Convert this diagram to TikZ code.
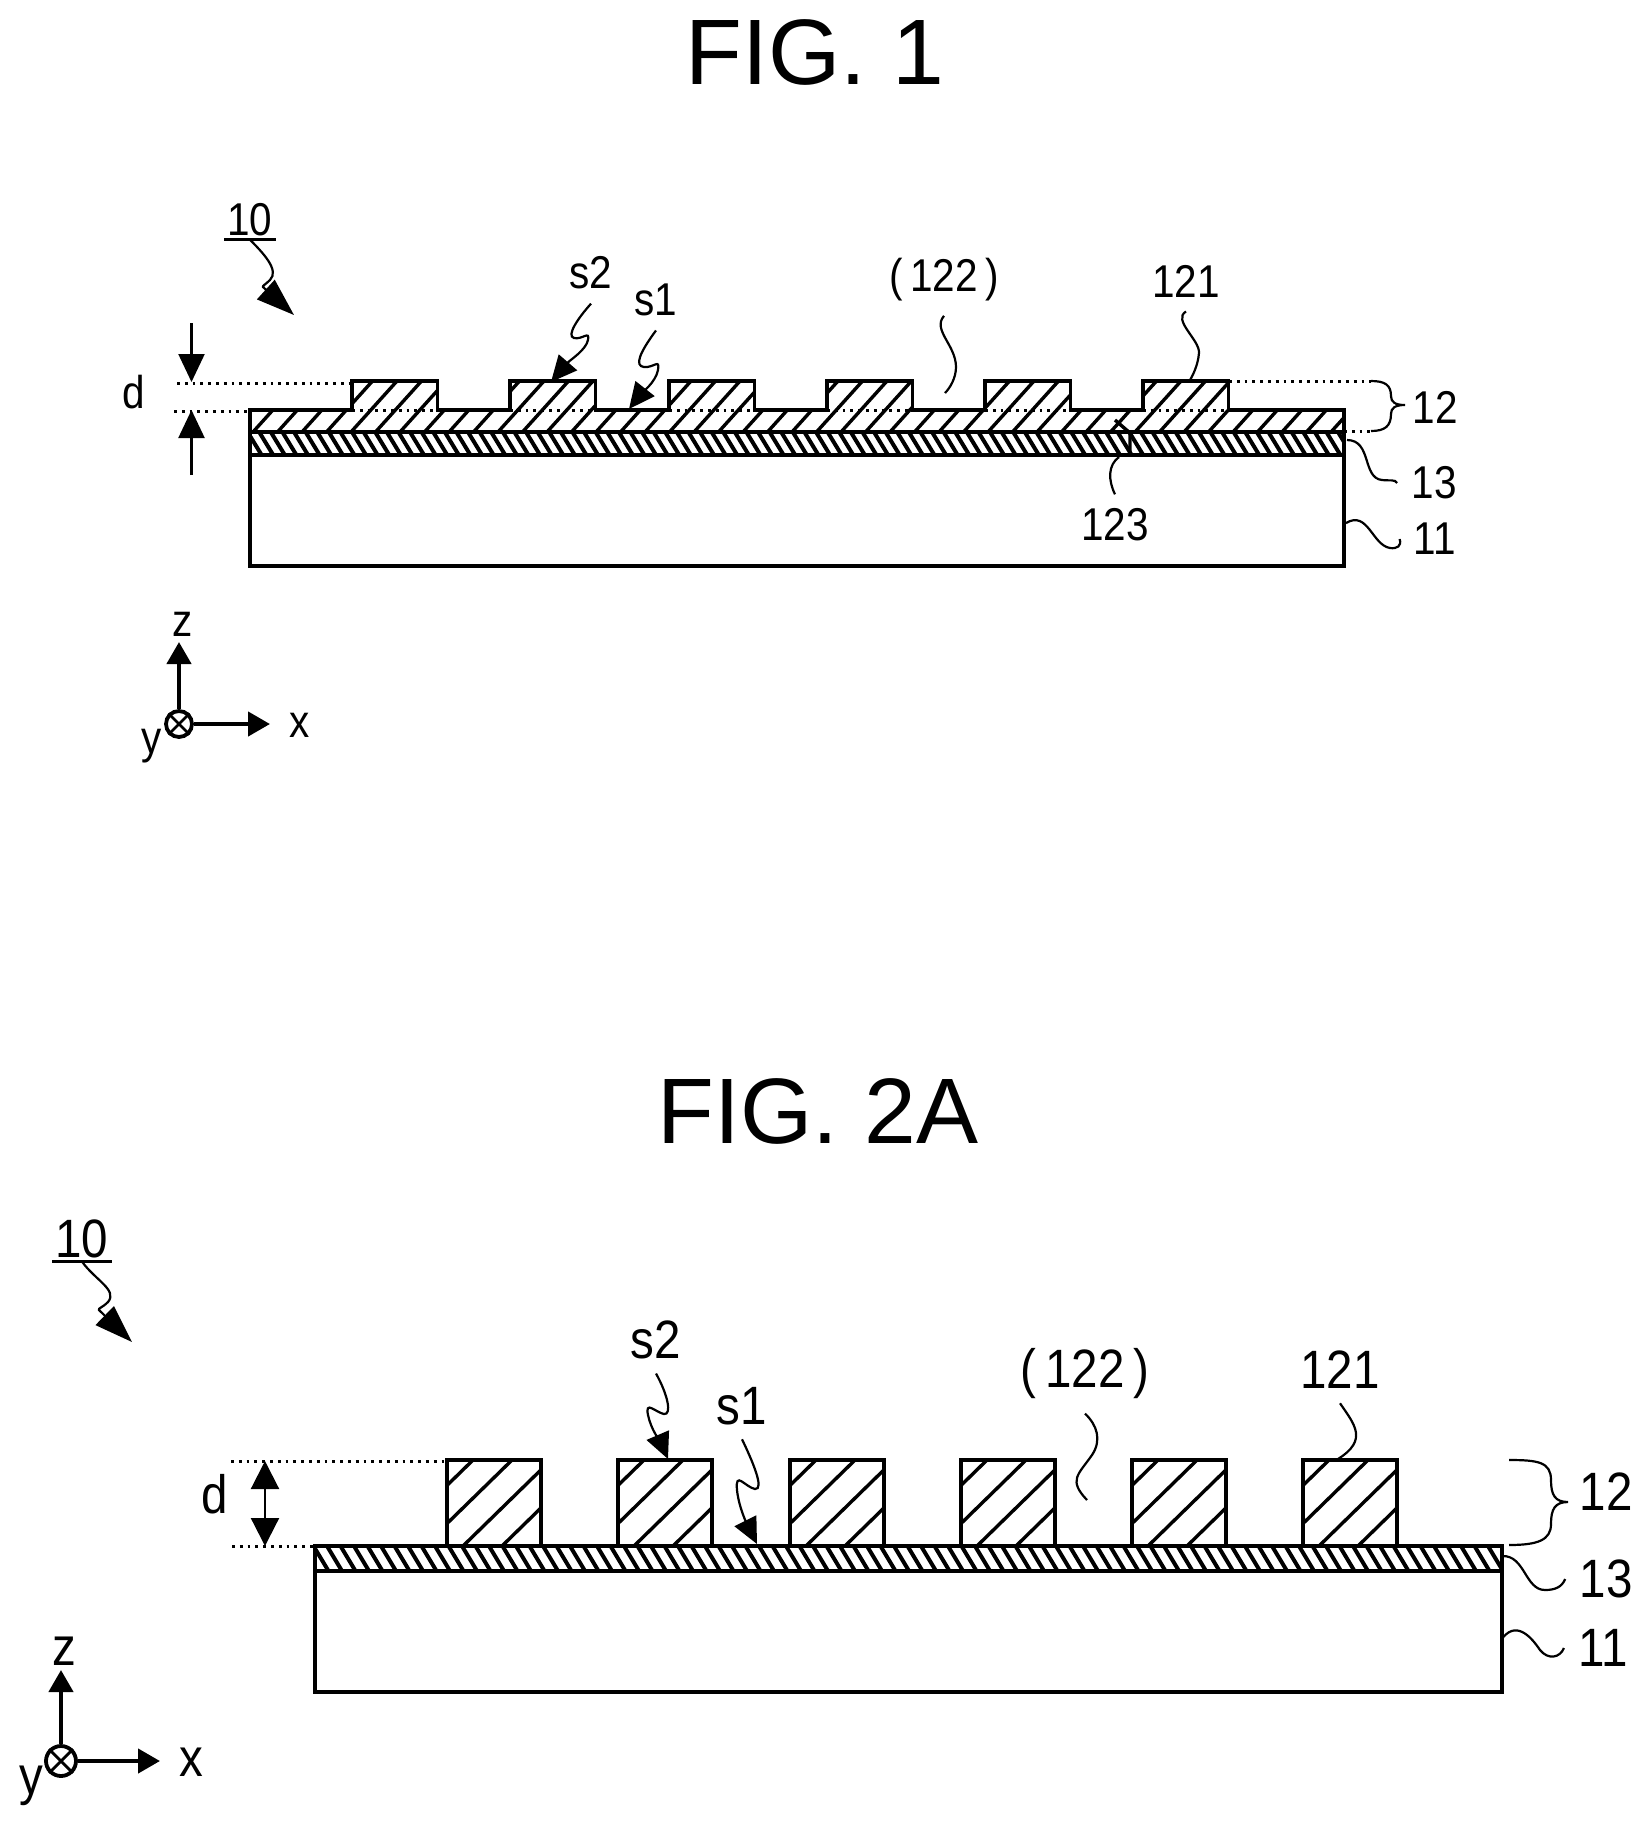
\documentclass[tikz,border=0pt]{standalone}
\usepackage{fontspec}
\setmainfont{Liberation Sans}
\newfontfamily\tagfont[FakeStretch=0.88]{Liberation Sans}
\usetikzlibrary{arrows.meta}

\newcommand{\bumpsA}{352,510,669,827,985,1143}
\newcommand{\bumpsB}{447,618,790,961,1132,1303}

\begin{document}
\begin{tikzpicture}
  [x=0.5pt,y=-0.5pt,
    title/.style={font=\fontsize{46.5}{50}\selectfont},
    tagA/.style={inner sep=7pt,font=\tagfont\fontsize{23}{26}\selectfont},
    tagB/.style={inner sep=7pt,font=\tagfont\fontsize{27}{30}\selectfont},
    tenA/.style={inner sep=1.5pt,font=\tagfont\fontsize{23}{26}\selectfont},
    tenB/.style={inner sep=1.5pt,font=\tagfont\fontsize{27}{30}\selectfont},
    outline/.style={line width=1.7pt,line join=miter},
    hatchwide/.style={line width=1.7pt},
    hatchdense/.style={line width=2pt},
    dots/.style={line width=1.5pt,dash pattern=on 1.4pt off 2.5pt},
    leader/.style={line width=1.1pt},
    pointer/.style={line width=1.1pt,-{Triangle[length=13pt,width=12pt]}},
    bigpointer/.style={line width=1.1pt,-{Triangle[length=19pt,width=13pt]}},
    gauge/.style={line width=1.1pt,-{Triangle[length=14pt,width=13pt]}},
    axis/.style={line width=2.2pt,-{Triangle[length=11pt,width=12pt]}},
    origin/.style={draw,circle,line width=1.9pt,inner sep=0pt}]

  \useasboundingbox (0,0) rectangle (1651,1828);

  % FIG. 1
  \node[title] (titleA) at (815,52) {FIG. 1};

  \begin{scope}
    \clip (250,410) rectangle (1344,432)
      foreach \b in \bumpsA {(\b,381) rectangle (\b+85.5,410)};
    \foreach \i in {0,...,47}
      \draw[hatchwide] (204+\i*24.5,432) -- ++(46,-51);
  \end{scope}
  \begin{scope}
    \clip (250,432) rectangle (1344,455);
    \foreach \i in {0,...,96}
      \draw[hatchdense] (236+\i*11.6,432) -- ++(14,23);
  \end{scope}
  \draw[outline] (250,432) -- (250,410)
    foreach \b in \bumpsA {-- (\b,410) -- (\b,381) -- (\b+85.5,381) -- (\b+85.5,410)}
    -- (1344,410) -- (1344,432);
  \foreach \b in \bumpsA
    \draw[dots] (\b,410) -- (\b+85.5,410);
  \draw[outline] (250,432) -- (1344,432);
  \draw[outline] (250,432) rectangle (1344,455);
  \draw[outline] (250,455) rectangle (1344,566);
  \draw[outline] (1115,420) -- (1130,433) -- (1130,455); % 123

  \node[tenA] (tagTenA) at (250,220) {10};
  \draw[line width=1.7pt] (tagTenA.south west) -- (tagTenA.south east);
  \coordinate (tipTenA) at (294,315);
  \draw[bigpointer] (tagTenA.south) .. controls (262,252) and (280,270) .. (270,280)
    .. controls (266,284) and (262,286) .. (263,287) -- (tipTenA);

  \node[tagA] (tagStwoA) at (591,273) {s2};
  \coordinate (tipStwoA) at (551,382);
  \draw[pointer] (tagStwoA.south) .. controls (578,318) and (566,336) .. (574,338)
    .. controls (582,340) and (590,330) .. (588,340)
    .. controls (586,350) and (570,360) .. (tipStwoA);

  \node[tagA] (tagSoneA) at (656,300) {s1};
  \coordinate (tipSoneA) at (629,409);
  \draw[pointer] (tagSoneA.south) .. controls (640,352) and (634,366) .. (644,367)
    .. controls (654,368) and (660,358) .. (658,370)
    .. controls (656,382) and (640,395) .. (tipSoneA);

  \node[tagA] (tagGapA) at (944,280) {(\,122\,)};
  \coordinate (endGapA) at (945,393);
  \draw[leader] (tagGapA.south) .. controls (932,330) and (956,345) .. (956,367)
    .. controls (956,378) and (950,388) .. (endGapA);

  \node[tagA] (tagRidgeA) at (1186,281) {121};
  \coordinate (endRidgeA) at (1190,380);
  \draw[leader] (tagRidgeA.south) .. controls (1172,320) and (1200,340) .. (1199,353)
    .. controls (1198,365) and (1193,375) .. (endRidgeA);

  \node[tagA] (tagNotchA) at (1115,525) {123};
  \coordinate (endNotchA) at (1119,457);
  \draw[leader] (tagNotchA.north) .. controls (1108,480) and (1108,465) .. (endNotchA);

  \node[tagA] (tagMidA) at (1434,483) {13};
  \coordinate (endMidA) at (1347,440);
  \draw[leader] (endMidA) .. controls (1372,440) and (1362,478) .. (1382,480)
    .. controls (1390,481) and (1395,479) .. (tagMidA.west);

  \node[tagA] (tagBaseA) at (1435,539) {11};
  \coordinate (endBaseA) at (1346,523);
  \draw[leader] (endBaseA) .. controls (1368,510) and (1372,545) .. (1390,548)
    .. controls (1397,549) and (1402,546) .. (tagBaseA.west);

  \node[tagA,inner sep=2pt] (tagLayerA) at (1435,407) {12};
  \coordinate (braceTopA) at (1371,381);
  \coordinate (braceBotA) at (1371,431);
  \draw[leader] (braceTopA) .. controls (1385,381) and (1391,385) .. (1391,396)
    .. controls (1391,402) and (1395,405) .. (1405,405)
    .. controls (1395,405) and (1391,408) .. (1391,414)
    .. controls (1391,426) and (1385,431) .. (braceBotA);
  \draw[dots] (1229,381) -- (braceTopA);
  \draw[dots] (1344,431) -- (braceBotA);

  \node[tagA,inner sep=2pt] (tagDepthA) at (134,392) {d};
  \draw[dots] (177,383) -- (352,383);
  \draw[dots] (174,411) -- (250,411);
  \coordinate (gaugeTopA) at (191.5,323);
  \coordinate (gaugeHiA) at (191.5,382);
  \coordinate (gaugeBotA) at (191.5,475);
  \coordinate (gaugeLoA) at (191.5,410);
  \draw[gauge] (gaugeTopA) -- (gaugeHiA);
  \draw[gauge] (gaugeBotA) -- (gaugeLoA);

  \node[origin,minimum size=13pt] (origA) at (179,724) {};
  \draw[line width=1.4pt] (origA.45) -- (origA.225) (origA.135) -- (origA.315);
  \coordinate (axisZA) at (179,642);
  \coordinate (axisXA) at (270,724);
  \draw[axis] (origA) -- (axisZA);
  \draw[axis] (origA) -- (axisXA);
  \node[tagA,inner sep=1pt] (labZA) at (183,624) {z};
  \node[tagA,inner sep=1pt] (labXA) at (300,725) {x};
  \node[tagA,inner sep=1pt] (labYA) at (152,746) {y};

  % FIG. 2A
  \node[title] (titleB) at (818,1111) {FIG. 2A};

  \begin{scope}
    \clip foreach \b in \bumpsB {(\b,1460) rectangle (\b+94,1546)};
    \foreach \b in \bumpsB
      \foreach \k in {0,...,3}
        \draw[hatchwide] (\b-62+\k*39,1546) -- ++(88,-86);
  \end{scope}
  \begin{scope}
    \clip (315,1546) rectangle (1502,1571);
    \foreach \i in {0,...,90}
      \draw[hatchdense] (300+\i*13.5,1546) -- ++(15,25);
  \end{scope}
  \foreach \b in \bumpsB
    \draw[outline] (\b,1546) -- (\b,1460) -- (\b+94,1460) -- (\b+94,1546);
  \draw[outline] (315,1546) rectangle (1502,1571);
  \draw[outline] (315,1571) rectangle (1502,1692);

  \node[tenB] (tagTenB) at (82,1239) {10};
  \draw[line width=1.7pt] (tagTenB.south west) -- (tagTenB.south east);
  \coordinate (tipTenB) at (132,1342);
  \draw[bigpointer] (tagTenB.south) .. controls (95,1280) and (118,1290) .. (108,1302)
    .. controls (102,1308) and (98,1308) .. (99,1310) -- (tipTenB);

  \node[tagB] (tagStwoB) at (656,1340) {s2};
  \coordinate (tipStwoB) at (668,1459);
  \draw[pointer] (tagStwoB.south) .. controls (668,1395) and (672,1415) .. (664,1414)
    .. controls (655,1412) and (645,1400) .. (648,1415)
    .. controls (651,1430) and (662,1445) .. (tipStwoB);

  \node[tagB] (tagSoneB) at (742,1406) {s1};
  \coordinate (tipSoneB) at (757,1544);
  \draw[pointer] (tagSoneB.south) .. controls (752,1460) and (765,1490) .. (755,1489)
    .. controls (745,1487) and (735,1470) .. (737,1490)
    .. controls (739,1510) and (750,1530) .. (tipSoneB);

  \node[tagB] (tagGapB) at (1085,1374) {(\,122\,)};
  \coordinate (endGapB) at (1087,1500);
  \draw[leader] (tagGapB.south) .. controls (1097,1425) and (1102,1440) .. (1092,1455)
    .. controls (1078,1475) and (1068,1480) .. (endGapB);

  \node[tagB] (tagRidgeB) at (1340,1370) {121};
  \coordinate (endRidgeB) at (1338,1459);
  \draw[leader] (tagRidgeB.south) .. controls (1355,1425) and (1368,1440) .. (endRidgeB);

  \node[tagB] (tagMidB) at (1606,1579) {13};
  \coordinate (endMidB) at (1502,1556);
  \draw[leader] (endMidB) .. controls (1525,1555) and (1525,1590) .. (1545,1590)
    .. controls (1555,1590) and (1562,1587) .. (tagMidB.west);

  \node[tagB] (tagBaseB) at (1603,1648) {11};
  \coordinate (endBaseB) at (1501,1640);
  \draw[leader] (endBaseB) .. controls (1515,1620) and (1530,1635) .. (1540,1650)
    .. controls (1548,1660) and (1560,1658) .. (tagBaseB.west);

  \node[tagB,inner sep=2pt] (tagLayerB) at (1606,1492) {12};
  \coordinate (braceTopB) at (1509,1460);
  \coordinate (braceBotB) at (1509,1545);
  \draw[leader] (braceTopB) .. controls (1538,1460) and (1551,1462) .. (1551,1480)
    .. controls (1551,1495) and (1555,1502) .. (1568,1502)
    .. controls (1555,1502) and (1551,1509) .. (1551,1524)
    .. controls (1551,1540) and (1538,1545) .. (braceBotB);

  \node[tagB,inner sep=2pt] (tagDepthB) at (215,1494) {d};
  \draw[dots] (231,1461) -- (447,1461);
  \draw[dots] (232,1546) -- (315,1546);
  \coordinate (gaugeHiB) at (265,1461);
  \coordinate (gaugeLoB) at (265,1546);
  \draw[line width=1.1pt,{Triangle[length=14pt,width=14pt]}-{Triangle[length=14pt,width=14pt]}] (gaugeHiB) -- (gaugeLoB);

  \node[origin,minimum size=15pt] (origB) at (61,1761) {};
  \draw[line width=1.4pt] (origB.45) -- (origB.225) (origB.135) -- (origB.315);
  \coordinate (axisZB) at (61,1670);
  \coordinate (axisXB) at (160,1761);
  \draw[axis] (origB) -- (axisZB);
  \draw[axis] (origB) -- (axisXB);
  \node[tagB,inner sep=1pt] (labZB) at (64,1651) {z};
  \node[tagB,inner sep=1pt] (labXB) at (191,1762) {x};
  \node[tagB,inner sep=1pt] (labYB) at (31,1786) {y};

\end{tikzpicture}
\end{document}
